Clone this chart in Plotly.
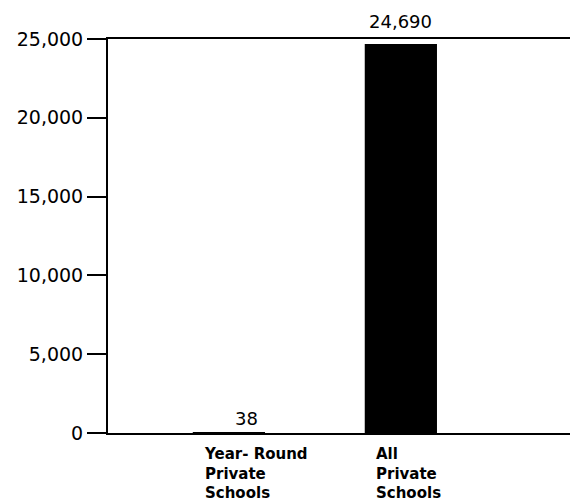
import plotly.graph_objects as go

categories = ["Year-Round Private Schools", "All Private Schools"]
values = [38, 24690]
value_labels = ["38", "24,690"]
cat_labels = ["Year- Round<br>Private<br>Schools", "All<br>Private<br>Schools"]
y_ticks = [0, 5000, 10000, 15000, 20000, 25000]
y_tick_text = ["0", "5,000", "10,000", "15,000", "20,000", "25,000"]

label_yshift = [1, 10]
label_xshift = [18, 0]

fig = go.Figure()
fig.add_trace(go.Bar(
    x=categories, y=values, width=0.42,
    marker=dict(color="black", line=dict(width=0)),
    hoverinfo="skip",
))

for i, (c, v, t) in enumerate(zip(categories, values, value_labels)):
    fig.add_annotation(
        x=c, y=v, text=t, showarrow=False, xanchor="center", yanchor="bottom",
        xshift=label_xshift[i], yshift=label_yshift[i],
        font=dict(family="DejaVu Sans", size=18, color="black"),
    )

for c, t in zip(categories, cat_labels):
    fig.add_annotation(
        x=c, y=0, text=t, showarrow=False, xanchor="left", yanchor="top",
        align="left", xshift=-27, yshift=-10,
        font=dict(family="DejaVu Sans", size=15, color="black", weight="bold"),
    )

fig.update_layout(
    width=570, height=496,
    margin=dict(l=100, r=0, t=31, b=71),
    paper_bgcolor="white", plot_bgcolor="white",
    showlegend=False,
    xaxis=dict(
        range=[-0.703, 2.03], showticklabels=False, ticks="",
        showline=True, mirror=True, linecolor="black", linewidth=2,
        showgrid=False, zeroline=False, fixedrange=True,
    ),
    yaxis=dict(
        range=[0, 25000], tickvals=y_ticks, ticktext=y_tick_text,
        ticks="outside", ticklen=19, tickwidth=2, tickcolor="black",
        showline=True, linecolor="black", linewidth=2,
        showgrid=False, zeroline=False,
        tickfont=dict(family="DejaVu Sans", size=19, color="black"),
        fixedrange=True,
    ),
)

fig.write_html("out.html")
